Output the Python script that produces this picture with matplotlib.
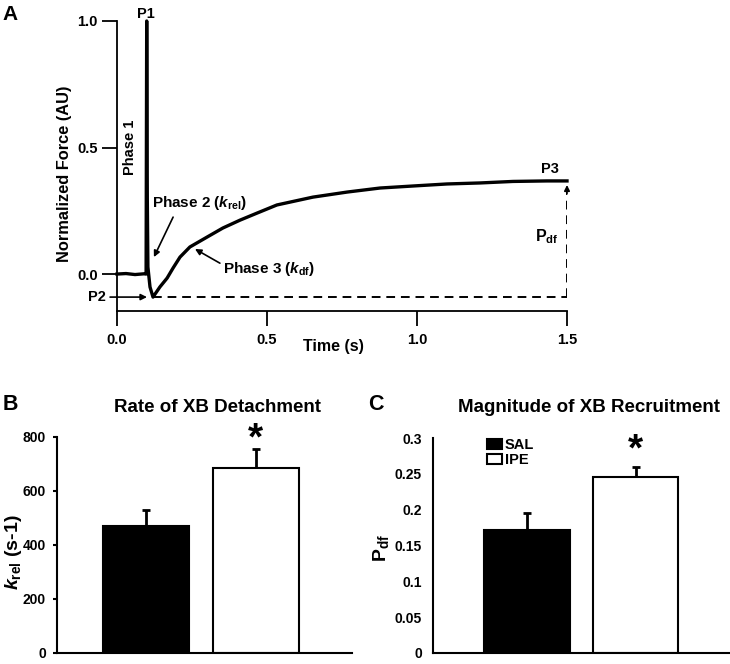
import matplotlib
matplotlib.use("Agg")
import matplotlib.pyplot as plt
from matplotlib.transforms import blended_transform_factory

plt.rcParams['font.family'] = ['Liberation Sans', 'DejaVu Sans']
plt.rcParams['font.weight'] = 'bold'
plt.rcParams['mathtext.fontset'] = 'custom'
plt.rcParams['mathtext.rm'] = 'Liberation Sans:bold'
plt.rcParams['mathtext.it'] = 'Liberation Sans:bold:italic'
plt.rcParams['mathtext.bf'] = 'Liberation Sans:bold'

# panel A: force trace
time_s = [0.0, 0.03, 0.06, 0.09, 0.097, 0.099, 0.101, 0.103, 0.11, 0.12, 0.143, 0.167,
          0.187, 0.21, 0.243, 0.30, 0.353, 0.41, 0.467, 0.533, 0.653, 0.767, 0.877,
          0.987, 1.1, 1.21, 1.32, 1.433, 1.5]
force = [0.0, 0.002, -0.002, 0.001, 0.0, 1.0, 0.3, 0.028, -0.051, -0.091, -0.051, -0.016,
         0.024, 0.067, 0.107, 0.146, 0.182, 0.213, 0.241, 0.273, 0.304, 0.324, 0.34,
         0.348, 0.356, 0.36, 0.366, 0.368, 0.368]
p2_time = 0.12
p2_level = -0.091
p3_level = 0.352

# panels B and C
groups = ['SAL', 'IPE']
krel_mean = [469, 687]
krel_err = [59, 68]
pdf_mean = [0.171, 0.245]
pdf_err = [0.025, 0.015]
bar_colors = ['black', 'white']

W, H = 730, 664
fig = plt.figure(figsize=(W / 100, H / 100), dpi=100)


def fx(px):
    return px / W


def fy(py):
    return 1 - py / H


# ---------------- A ----------------
axA = fig.add_axes([fx(117), fy(311), 450 / W, 290 / H])
axA.plot(time_s, force, color='black', lw=2.4, clip_on=False, solid_joinstyle='round')
axA.set_xlim(0, 1.5)
axA.set_ylim(-0.146, 1.0)
for s in ['top', 'right']:
    axA.spines[s].set_visible(False)
for s in ['left', 'bottom']:
    axA.spines[s].set_linewidth(1.3)
axA.set_xticks([0, 0.5, 1.0, 1.5])
axA.set_xticklabels(['0.0', '0.5', '1.0', '1.5'])
axA.set_yticks([0, 0.5, 1.0])
axA.set_yticklabels(['0.0', '0.5', '1.0'])
axA.tick_params(axis='y', direction='out', length=10.5, width=1.3, pad=3.5, labelsize=10.5)
axA.tick_params(axis='x', direction='out', length=10.5, width=1.3, pad=5, labelsize=10.5)

dash = (0, (4.5, 3))
axA.plot([p2_time, 1.5], [p2_level, p2_level], color='black', lw=1.4, linestyle=dash)
axA.plot([1.5, 1.5], [p2_level, p3_level - 0.02], color='black', lw=1.4, linestyle=dash)
axA.annotate('', xy=(1.5, p3_level), xytext=(1.5, p3_level - 0.035),
             arrowprops=dict(arrowstyle='-|>', color='black', lw=1.2,
                             mutation_scale=8, shrinkA=0, shrinkB=0))

axA.text(0.097, 1.01, 'P1', ha='center', va='baseline', fontsize=10.5)
axA.text(0.043, 0.50, 'Phase 1', rotation=90, ha='center', va='center', fontsize=10.5)
axA.text(0.117, 0.265, r'Phase 2 ($\mathit{k}_{\mathrm{rel}}$)', ha='left',
         va='baseline', fontsize=11)
axA.annotate('', xy=(0.123, 0.067), xytext=(0.187, 0.225),
             arrowprops=dict(arrowstyle='-|>', color='black', lw=1.2,
                             mutation_scale=9, shrinkA=0, shrinkB=0))
axA.text(0.353, 0.004, r'Phase 3 ($\mathit{k}_{\mathrm{df}}$)', ha='left',
         va='baseline', fontsize=11)
axA.annotate('', xy=(0.26, 0.099), xytext=(0.343, 0.043),
             arrowprops=dict(arrowstyle='-|>', color='black', lw=1.2,
                             mutation_scale=9, shrinkA=0, shrinkB=0))
axA.annotate('P2', xy=(0.1, p2_level), xytext=(-0.037, p2_level),
             ha='right', va='center', fontsize=10.5, annotation_clip=False,
             arrowprops=dict(arrowstyle='-|>', color='black', lw=1.2,
                             mutation_scale=9, shrinkA=1, shrinkB=0))
axA.text(1.443, 0.40, 'P3', ha='center', va='baseline', fontsize=10.5)
axA.text(1.47, 0.146, r'P$_{\mathrm{df}}$', ha='right', va='center', fontsize=11.5)

fig.text(fx(64), fy(174), 'Normalized Force (AU)', rotation=90, ha='center',
         va='center', fontsize=11.8)
fig.text(fx(333), fy(347), 'Time (s)', ha='center', va='center', fontsize=11.5)
fig.text(fx(10), fy(15), 'A', ha='center', va='center', fontsize=15)


# ---------------- B and C ----------------
def bar_panel(ax, means, errs, ylim, yticks, yticklabels, xlim, width):
    xs = list(range(len(means)))
    ax.errorbar(xs, means, yerr=[[0] * len(errs), errs], fmt='none', ecolor='black',
                elinewidth=2, capsize=3, capthick=2, zorder=1)
    ax.bar(xs, means, width=width, color=bar_colors, edgecolor='black', lw=1.5,
           zorder=2, label=groups)
    ax.set_xlim(*xlim)
    ax.set_ylim(*ylim)
    ax.set_xticks([])
    ax.set_yticks(yticks)
    ax.set_yticklabels(yticklabels)
    for s in ['top', 'right']:
        ax.spines[s].set_visible(False)
    for s in ['left', 'bottom']:
        ax.spines[s].set_linewidth(1.5)
    return xs


axB = fig.add_axes([fx(57), fy(653), 295 / W, 216 / H])
xb = bar_panel(axB, krel_mean, krel_err, (0, 800), [0, 200, 400, 600, 800],
               ['0', '200', '400', '600', '800'], (-0.813, 1.88), 0.785)
axB.tick_params(axis='y', direction='out', length=3, width=1.5, pad=5, labelsize=10)
axB.text(xb[1], 0.99, '*', transform=blended_transform_factory(axB.transData, axB.transAxes),
         ha='center', va='center', fontsize=28)
fig.text(fx(218), fy(408), 'Rate of XB Detachment', ha='center', va='center', fontsize=13.5)
fig.text(fx(14), fy(552), r'$\mathit{k}_{\mathrm{rel}}$ (s-1)', rotation=90,
         ha='center', va='center', fontsize=14)
fig.text(fx(10), fy(405), 'B', ha='center', va='center', fontsize=15.5)

axC = fig.add_axes([fx(433), fy(653), 297 / W, 215 / H])
xc = bar_panel(axC, pdf_mean, pdf_err, (0, 0.3), [0, 0.05, 0.1, 0.15, 0.2, 0.25, 0.3],
               ['0', '0.05', '0.1', '0.15', '0.2', '0.25', '0.3'], (-0.866, 1.87), 0.79)
axC.tick_params(axis='y', direction='out', length=0, pad=8, labelsize=10)
axC.text(xc[1], 0.94, '*', transform=blended_transform_factory(axC.transData, axC.transAxes),
         ha='center', va='center', fontsize=28)
axC.legend(loc='upper left', bbox_to_anchor=(0.182, 1.0), frameon=False, fontsize=10.5,
           handlelength=1.0, handleheight=0.7, handletextpad=0.2, labelspacing=0.05,
           borderpad=0, borderaxespad=0)
fig.text(fx(589), fy(408), 'Magnitude of XB Recruitment', ha='center', va='center',
         fontsize=13.5)
fig.text(fx(381), fy(548), r'P$_{\mathrm{df}}$', rotation=90, ha='center', va='center',
         fontsize=14)
fig.text(fx(376), fy(405), 'C', ha='center', va='center', fontsize=15.5)

fig.savefig('out.png', dpi=100)
